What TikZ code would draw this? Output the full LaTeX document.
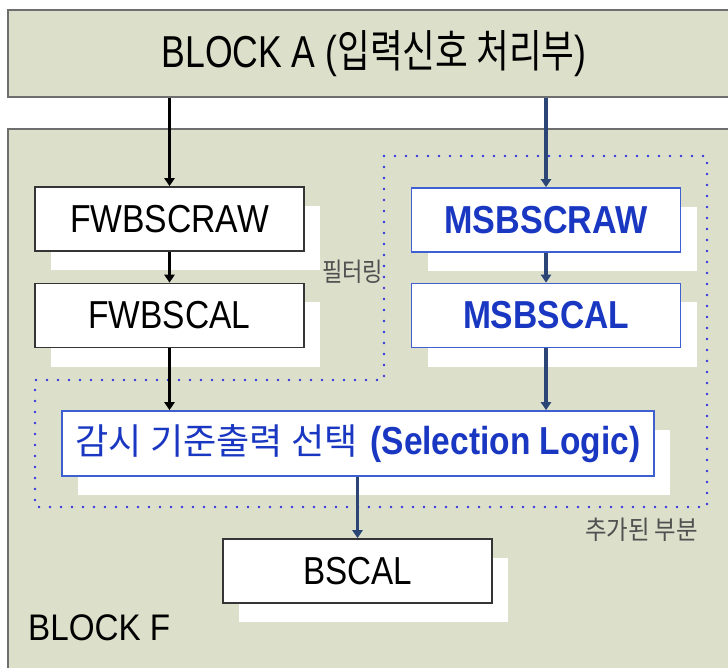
\documentclass[tikz,border=0pt]{standalone}
\usepackage{fontspec}
\usepackage{graphicx}
\setmainfont{Liberation Sans}
\newfontfamily\kr{Noto Sans CJK KR}
\usetikzlibrary{arrows.meta,shadows}

\definecolor{panelfill}{HTML}{DCE0CB}
\definecolor{panelline}{HTML}{6E6E6E}
\definecolor{boxline}{HTML}{353535}
\definecolor{blueline}{HTML}{3D5FD0}
\definecolor{bluetext}{HTML}{1A37C2}
\definecolor{dotblue}{HTML}{3535DC}
\definecolor{arrowblue}{HTML}{2B4676}
\definecolor{graytext}{HTML}{505050}

% stretch a text to a given width, keeping its natural height
\newcommand\fitw[2]{\resizebox{#1}{\height}{#2}}

\begin{document}
\begin{tikzpicture}[x=1pt,y=-1pt,
  panel/.style={draw=panelline,line width=1.4pt,fill=panelfill,inner sep=0pt},
  plainbox/.style={draw=boxline,line width=1.6pt,fill=white,
    minimum width=269pt,minimum height=64pt,inner sep=0pt,
    general shadow={fill=white,shadow xshift=16pt,shadow yshift=-19pt},
    font=\fontsize{39}{39}\selectfont},
  bluebox/.style={plainbox,draw=blueline,text=bluetext},
  graylabel/.style={text=graytext,inner sep=0pt,font=\kr\fontsize{26}{26}\selectfont},
  link/.style={line width=3.5pt,-{Triangle[length=8pt,width=10pt]}},
  dotline/.style={draw=dotblue,line width=2.6pt,line cap=round,dash pattern=on 0pt off 11pt}]

\useasboundingbox (0,0) rectangle (728,668);
\clip (0,0) rectangle (728,668);
\fill[white] (0,0) rectangle (728,668);

% the two outer blocks
\node[panel,minimum width=732pt,minimum height=87pt] (blockA) at (374,53.5)
  {\fitw{425pt}{\fontsize{44.7}{46}\selectfont BLOCK A ({\kr 입력신호 처리부})}};
\node[panel,minimum width=732pt,minimum height=562pt] (blockF) at (374,410) {};
\node[anchor=base west,inner sep=0pt,font=\fontsize{37}{37}\selectfont] (blockFname) at (28,640)
  {\fitw{142pt}{BLOCK F}};

% region of the added part
\draw[dotline] (384,156) -- (707,156) -- (707,507) -- (35,507) -- (35,380) -- (384,380) -- cycle;
\node[graylabel] (filter) at (352.5,271.5) {\fitw{61pt}{필터링}};
\node[graylabel] (added) at (641.5,530) {\fitw{113pt}{추가된 부분}};

% processing stages
\node[plainbox] (fwraw) at (169.5,219) {\fitw{199pt}{FWBSCRAW}};
\node[plainbox] (fwcal) at (169.5,315.5) {\fitw{162pt}{FWBSCAL}};
\node[bluebox] (msraw) at (546,220) {\fitw{203pt}{\bfseries MSBSCRAW}};
\node[bluebox] (mscal) at (546,315.5) {\fitw{166pt}{\bfseries MSBSCAL}};
\node[bluebox,minimum width=592pt,minimum height=65pt] (sel) at (358,443.5)
  {\fitw{282pt}{\kr\fontsize{36}{36}\selectfont 감시 기준출력 선택}\hspace{13pt}\fitw{270pt}{\bfseries (Selection Logic)}};
\node[plainbox] (bscal) at (357.5,571) {\fitw{109pt}{BSCAL}};

% signal flow
\draw[link] (fwraw.north |- blockA.south) -- (fwraw.north);
\draw[link] (fwraw.south) -- (fwcal.north);
\draw[link] (fwcal.south) -- (fwcal.south |- sel.north);
\draw[link,arrowblue] (msraw.north |- blockA.south) -- (msraw.north);
\draw[link,arrowblue] (msraw.south) -- (mscal.north);
\draw[link,arrowblue] (mscal.south) -- (mscal.south |- sel.north);
\draw[link,arrowblue] (sel.south -| bscal.north) -- (bscal.north);
\end{tikzpicture}
\end{document}
